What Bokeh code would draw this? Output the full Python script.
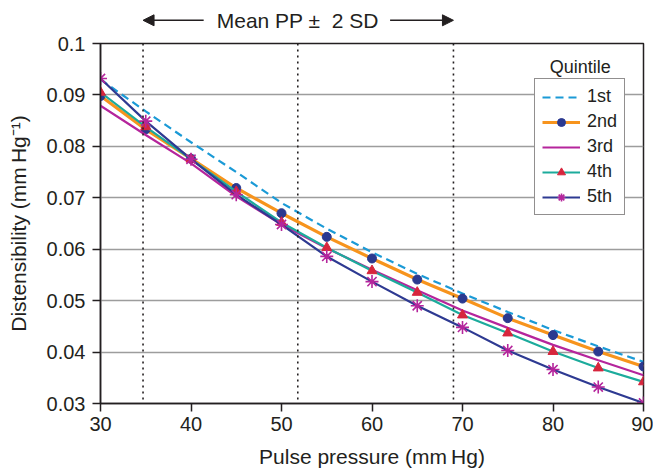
from bokeh.plotting import figure
from bokeh.layouts import column
from bokeh.models import (Legend, LegendItem, Label, Arrow, NormalHead, Span,
                          FixedTicker, ColumnDataSource)
from bokeh.embed import file_html
from bokeh.resources import INLINE

# ---- data ----
pulse_pressure = [30, 35, 40, 45, 50, 55, 60, 65, 70, 75, 80, 85, 90]
q1 = [0.0930, 0.0868, 0.0808, 0.0750, 0.0690, 0.0640, 0.0594, 0.0552, 0.0514, 0.0478, 0.0443, 0.0411, 0.0381]
q2 = [0.0898, 0.0833, 0.0776, 0.0719, 0.0670, 0.0624, 0.0582, 0.0541, 0.0504, 0.0466, 0.0433, 0.0401, 0.0372]
q3 = [0.0879, 0.0822, 0.0767, 0.0703, 0.0648, 0.0602, 0.0560, 0.0520, 0.0481, 0.0447, 0.0414, 0.0384, 0.0355]
q4 = [0.0905, 0.0838, 0.0775, 0.0712, 0.0652, 0.0603, 0.0558, 0.0516, 0.0472, 0.0437, 0.0401, 0.0369, 0.0342]
q5 = [0.0932, 0.0849, 0.0775, 0.0706, 0.0648, 0.0586, 0.0537, 0.0490, 0.0448, 0.0403, 0.0366, 0.0332, 0.0301]
quintile_labels = ["1st", "2nd", "3rd", "4th", "5th"]
sd_lines = [34.7, 51.8, 69.0]      # mean PP - 2SD, mean PP, mean PP + 2SD
arrow_tails = [41.4, 62.0]         # where the two arrows start (beside the text)
x_ticks = [30, 40, 50, 60, 70, 80, 90]
y_ticks = [0.03, 0.04, 0.05, 0.06, 0.07, 0.08, 0.09, 0.1]
y_tick_labels = {0.03: "0.03", 0.04: "0.04", 0.05: "0.05", 0.06: "0.06",
                 0.07: "0.07", 0.08: "0.08", 0.09: "0.09", 0.1: "0.1"}

FONT = "Liberation Sans"
TXT = "#231f20"

p = figure(width=653, height=437, x_range=(30, 90), y_range=(0.03, 0.1),
           output_backend="svg", toolbar_location=None,
           min_border_left=100, min_border_right=10, min_border_top=10, min_border_bottom=65)
p.background_fill_color = "white"
p.border_fill_color = "white"
p.outline_line_color = "#231f20"
p.outline_line_width = 1.5

# grid
p.xgrid.grid_line_color = None
p.ygrid.grid_line_color = "#9d9d9d"
p.ygrid.grid_line_width = 1.5

# axes
for ax in (p.xaxis[0], p.yaxis[0]):
    ax.axis_line_color = TXT
    ax.axis_line_width = 1.5
    ax.major_tick_line_color = TXT
    ax.major_tick_line_width = 1.5
    ax.major_tick_in = 0
    ax.major_tick_out = 8
    ax.minor_tick_line_color = None
    ax.major_label_text_font = FONT
    ax.major_label_text_font_size = "20px"
    ax.major_label_text_color = TXT
    ax.axis_label_text_font = FONT
    ax.axis_label_text_font_size = "21px"
    ax.axis_label_text_font_style = "normal"
    ax.axis_label_text_color = TXT

p.xaxis.ticker = FixedTicker(ticks=x_ticks)
p.yaxis.ticker = FixedTicker(ticks=y_ticks)
p.yaxis.major_label_overrides = y_tick_labels
p.xaxis.axis_label = "Pulse pressure (mm\u2009Hg)"
p.yaxis.axis_label = "Distensibility (mm\u2009Hg\u207b\u00b9)"
p.xaxis.major_label_standoff = 5
p.yaxis.major_label_standoff = 7
p.xaxis.axis_label_standoff = 11
p.yaxis.axis_label_standoff = 14

# dotted reference lines
for xv in sd_lines:
    p.add_layout(Span(location=xv, dimension="height", line_color="#231f20",
                      line_width=1.6, line_dash="2 4"))

src = ColumnDataSource(dict(x=pulse_pressure, q1=q1, q2=q2, q3=q3, q4=q4, q5=q5))

r1 = p.line("x", "q1", source=src, line_color="#1b9ad6", line_width=2.2, line_dash="8 5")
r2 = p.line("x", "q2", source=src, line_color="#f7941d", line_width=3.2)
r2m = p.scatter("x", "q2", source=src, marker="circle", size=9,
                fill_color="#2b3990", line_color="#2b3990")
r3 = p.line("x", "q3", source=src, line_color="#b5259c", line_width=2.2)
r4 = p.line("x", "q4", source=src, line_color="#1cab9c", line_width=2.2)
r4m = p.scatter("x", "q4", source=src, marker="triangle", size=10,
                fill_color="#d7263d", line_color="#d7263d")
r5 = p.line("x", "q5", source=src, line_color="#2e3a92", line_width=2.2)
r5m = p.scatter("x", "q5", source=src, marker="asterisk", size=13,
                line_color="#b5259c", line_width=1.6)

legend = Legend(items=[
    LegendItem(label=quintile_labels[0], renderers=[r1]),
    LegendItem(label=quintile_labels[1], renderers=[r2, r2m]),
    LegendItem(label=quintile_labels[2], renderers=[r3]),
    LegendItem(label=quintile_labels[3], renderers=[r4, r4m]),
    LegendItem(label=quintile_labels[4], renderers=[r5, r5m]),
], location=(434, 188))
legend.label_text_font = FONT
legend.label_text_font_size = "18px"
legend.label_text_color = TXT
legend.glyph_width = 38
legend.glyph_height = 20
legend.label_height = 20
legend.label_standoff = 7
legend.spacing = 4
legend.padding = 7
legend.margin = 0
legend.border_line_color = "#231f20"
legend.border_line_width = 1.2
legend.background_fill_color = "white"
legend.background_fill_alpha = 1
p.add_layout(legend, "center")

p.add_layout(Label(x=83.0, y=0.0954, text="Quintile", text_font=FONT, text_font_size="18px",
                   text_color=TXT, text_align="center", text_baseline="middle"))

# ---- top strip with the "Mean PP ± 2 SD" annotation ----
top = figure(width=653, height=33, x_range=p.x_range, y_range=(0, 1),
             output_backend="svg", toolbar_location=None,
             x_axis_location=None, y_axis_location=None,
             min_border_left=100, min_border_right=10, min_border_top=0, min_border_bottom=0)
top.outline_line_color = None
top.xgrid.grid_line_color = None
top.ygrid.grid_line_color = None
top.background_fill_color = "white"
top.border_fill_color = "white"
ya = 0.4
top.add_layout(Label(x=sd_lines[1], y=ya, text="Mean PP \u00b1\u00a0\u00a02 SD", text_font=FONT,
                     text_font_size="21px", text_color=TXT, text_align="center",
                     text_baseline="middle"))
top.add_layout(Arrow(x_start=arrow_tails[0], y_start=ya, x_end=sd_lines[0], y_end=ya,
                     line_color=TXT, line_width=1.5,
                     end=NormalHead(size=11, fill_color=TXT, line_color=TXT)))
top.add_layout(Arrow(x_start=arrow_tails[1], y_start=ya, x_end=sd_lines[2], y_end=ya,
                     line_color=TXT, line_width=1.5,
                     end=NormalHead(size=11, fill_color=TXT, line_color=TXT)))

layout = column(top, p, spacing=0)
open("out.html", "w").write(file_html(layout, INLINE))
